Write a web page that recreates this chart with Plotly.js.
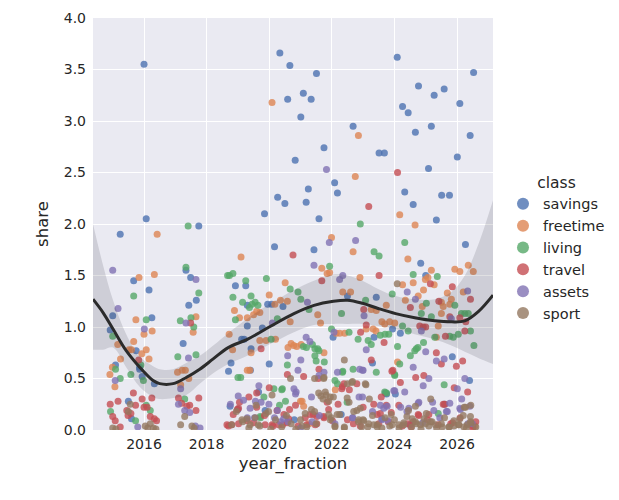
<!DOCTYPE html>
<html><head><meta charset="utf-8">
<script src="https://cdn.plot.ly/plotly-3.0.1.min.js"></script>
<style>body{margin:0;background:#fff}#chart{width:619px;height:500px}</style>
</head><body><div id="chart"></div>
<script>
const classes = ["savings","freetime","living","travel","assets","sport"];
const colors = ["#4C72B0","#DD8452","#55A868","#C44E52","#8172B3","#937860"];

// [year_fraction, share]
const savings = [[2016.0,3.55],[2016.07,2.05],[2017.75,1.98],[2020.34,3.66],[2020.66,3.54],[2021.51,3.46],[2021.09,3.27],[2020.59,3.21],[2021.34,3.21],[2021.01,3.04],[2022.68,2.95],[2021.75,2.74],[2020.83,2.62],[2022.09,2.40],[2021.25,2.34],[2022.18,2.30],[2020.27,2.26],[2020.50,2.20],[2021.18,2.21],[2019.85,2.10],[2021.59,2.05],
[2024.09,3.62],[2026.53,3.47],[2024.77,3.34],[2025.59,3.31],[2025.27,3.25],[2026.09,3.17],[2024.26,3.14],[2024.44,3.08],[2025.18,2.95],[2024.67,2.89],[2026.42,2.86],[2023.51,2.69],[2023.68,2.69],[2026.01,2.65],[2025.09,2.54],[2024.33,2.31],[2025.51,2.28],[2025.76,2.28],[2024.6,2.19],[2025.34,2.04],[2026.27,1.80],
[2015.24,1.90],[2015.67,1.45],[2017.34,1.55],[2017.49,1.48],[2016.16,1.36],[2017.67,1.26],[2017.43,1.21],[2015.0,1.11],[2016.25,1.09],[2014.92,0.97],[2017.25,0.84],[2015.75,0.77],[2015.09,0.63],[2015.86,0.61],[2015.86,0.59],[2015.94,0.52],[2016.33,0.45],[2015.5,0.28],[2015.6,0.11],
[2018.92,1.40],[2019.25,1.40],[2020.17,1.78],[2021.43,1.75],[2022.5,1.30],[2019.3,1.21],[2019.95,1.22],[2020.08,1.22],[2020.44,1.20],[2019.3,1.01],[2019.78,0.99],[2022.04,0.90],[2019.12,0.88],[2019.2,0.88],[2019.42,0.79],[2018.78,0.65],[2020.0,0.64],[2019.4,0.58],[2018.7,0.57],
[2024.84,1.62],[2025.0,1.50],[2023.42,1.29],[2023.94,0.98],[2024.19,0.94],[2023.35,0.90],[2025.85,0.71],[2023.3,0.65],[2023.75,0.35],[2024.03,0.35],[2019.0,0.2],[2020.8,0.1],[2022.3,0.15],[2024.5,0.05],[2025.6,0.25],[2026.4,0.48],
[2019.66,0.37],[2018.75,0.23],[2019.87,0.19],[2023.71,0.36],[2023.6,0.11]];

const freetime = [[2020.09,3.18],[2022.85,2.86],[2022.75,2.46],[2024.17,2.09],[2024.66,1.99],[2016.42,1.90],[2015.84,1.48],[2016.33,1.51],[2015.74,1.07],[2017.66,1.10],[2017.57,0.95],[2016.26,0.96],[2016.0,0.93],[2015.16,0.83],[2015.67,0.86],[2015.52,0.78],[2015.6,0.78],[2016.07,0.78],[2015.93,0.74],[2015.25,0.69],[2016.16,0.69],[2014.99,0.61],[2014.91,0.54],[2015.07,0.42],[2017.07,0.56],[2017.22,0.58],[2017.32,0.58],[2017.43,0.50],[2017.17,0.44],
[2021.99,1.87],[2022.68,1.73],[2019.1,1.68],[2021.68,1.57],[2021.93,1.53],[2021.85,1.52],[2020.51,1.43],[2022.9,1.48],[2022.35,1.34],[2022.6,1.34],[2020.0,1.31],[2020.36,1.26],[2020.58,1.25],[2018.89,1.16],[2019.05,1.09],[2019.3,1.09],[2019.6,1.15],[2019.5,1.12],[2019.7,1.14],[2020.18,1.22],[2020.67,1.05],[2021.55,1.12],[2021.64,1.04],[2022.14,0.94],[2022.25,0.94],[2022.41,0.94],[2018.72,0.93],[2019.7,0.87],[2019.9,0.87],[2020.2,0.88],[2020.7,0.84],[2020.78,0.82],[2020.88,0.81],[2021.02,0.83],[2020.6,0.80],[2018.83,0.78],[2019.42,0.75],[2021.75,0.75],[2019.3,0.58],[2019.38,0.58],
[2024.43,1.66],[2025.93,1.56],[2026.09,1.54],[2026.36,1.60],[2026.52,1.54],[2025.18,1.55],[2025.07,1.48],[2024.99,1.46],[2024.6,1.43],[2025.27,1.41],[2024.26,1.41],[2026.2,1.34],[2024.93,1.36],[2024.76,1.30],[2025.69,1.33],[2024.35,1.26],[2025.5,1.24],[2025.82,1.27],[2024.89,1.20],[2025.56,1.20],[2025.77,1.22],[2023.74,1.21],[2025.5,1.13],[2023.26,1.17],[2023.42,1.16],[2023.6,1.05],[2023.85,1.05],[2024.01,1.04],[2023.69,1.03],[2023.32,0.98],[2023.1,0.98],[2023.41,0.96],[2025.4,1.01],[2025.34,0.90],[2024.1,0.66],[2026.57,0.04],[2021.0,0.28],[2021.1,0.23],[2021.27,0.06],
[2021.05,0.28],[2022.11,0.39]];

const living = [[2017.41,1.98],[2022.91,2.0],[2017.34,1.58],[2015.67,1.30],[2017.75,1.33],[2016.07,1.07],[2017.16,1.06],[2017.5,1.09],[2017.59,1.0],[2015.0,0.91],[2017.66,0.73],[2017.08,0.71],[2015.9,0.63],[2015.09,0.59],[2015.58,0.54],[2015.24,0.50],[2015.98,0.48],[2018.67,1.50],[2014.93,0.18],[2016.07,0.24],[2016.2,0.19],[2015.73,0.09],[2017.3,0.30],
[2021.93,1.59],[2019.91,1.47],[2018.73,1.50],[2018.84,1.52],[2019.25,1.45],[2020.67,1.37],[2020.92,1.34],[2018.84,1.29],[2019.42,1.30],[2021.01,1.27],[2019.15,1.24],[2019.55,1.24],[2019.64,1.21],[2019.45,1.22],[2019.37,1.19],[2021.27,1.17],[2018.92,1.07],[2020.26,1.08],[2021.99,0.98],[2022.31,1.13],[2020.06,0.88],[2021.38,0.83],[2021.46,0.79],[2021.09,0.81],[2021.19,0.80],[2021.55,0.79],[2021.46,0.72],[2021.59,0.77],[2021.76,0.66],[2021.5,0.67],[2020.58,0.63],[2019.09,0.51],[2019.0,0.51],[2022.34,0.56],[2022.68,0.59],[2022.1,0.48],[2022.18,0.45],[2022.55,0.95],[2022.84,0.88],[2020.15,0.40],[2020.42,0.40],[2020.52,0.28],[2020.33,0.24],[2019.83,0.32],[2019.72,0.12],
[2024.33,1.82],[2023.35,1.73],[2023.51,1.69],[2024.6,1.51],[2025.37,1.49],[2023.93,1.32],[2023.08,1.26],[2025.02,1.23],[2025.93,1.21],[2026.14,1.13],[2026.25,1.13],[2026.36,1.13],[2024.86,1.13],[2025.18,1.10],[2024.26,1.01],[2024.44,0.96],[2023.55,0.92],[2023.7,0.93],[2023.82,0.93],[2025.29,0.90],[2025.77,0.91],[2025.88,0.90],[2026.04,0.93],[2026.43,0.96],[2026.54,0.82],[2024.1,0.81],[2024.93,0.85],[2024.75,0.80],[2024.65,0.77],[2024.7,0.79],[2024.51,0.72],[2023.16,0.87],[2023.26,0.83],[2023.42,0.56],[2024.17,0.64],[2024.01,0.54],[2025.59,0.44],[2023.69,0.37],[2025.4,0.16],
[2020.4,0.39],[2019.71,0.13],[2022.35,0.57],[2024.01,0.53],[2022.49,0.27],[2023.75,0.36]];

const travel = [[2024.10,2.50],[2023.18,2.17],[2020.76,1.70],[2021.68,1.45],[2023.51,1.50],[2025.85,1.39],[2026.43,1.27],[2025.42,1.25],[2024.51,1.19],[2025.15,1.42],[2023.02,1.17],[2026.09,1.09],[2026.28,1.05],[2025.77,1.10],[2023.1,1.02],[2024.81,1.01],[2025.0,1.0],[2024.92,1.0],[2023.67,0.85],[2025.63,0.91],[2026.25,0.96],[2025.34,0.75],[2023.26,0.68],[2023.95,0.58],[2025.5,0.64],[2025.98,0.62],[2026.18,0.67],[2024.19,0.46],[2024.68,0.51],[2024.94,0.53],[2025.91,0.41],[2026.34,0.37],[2023.58,0.32],[2023.34,0.25],[2025.56,0.25],[2024.76,0.15],[2023.74,0.24],
[2022.92,0.95],[2019.74,0.79],[2021.59,0.59],[2020.58,0.54],[2021.1,0.52],[2021.57,0.50],[2022.39,0.45],[2019.35,0.32],[2020.0,0.41],[2020.84,0.24],[2018.85,0.15],[2018.98,0.20],[2019.3,0.09],[2019.5,0.07],[2020.12,0.04],[2020.47,0.15],[2020.92,0.04],[2021.41,0.15],[2021.75,0.12],[2022.02,0.09],[2022.34,0.42],[2022.69,0.06],
[2015.66,0.36],[2015.17,0.28],[2014.92,0.25],[2015.0,0.13],[2015.08,0.09],[2015.24,0.03],[2015.94,0.30],[2016.25,0.31],[2015.73,0.24],[2016.0,0.22],[2016.1,0.22],[2015.45,0.19],[2015.58,0.16],[2015.49,0.14],[2016.2,0.13],[2016.33,0.11],[2016.4,0.09],[2017.49,1.04],[2017.1,0.31],[2017.75,0.31],[2017.2,0.26],[2017.37,0.23],[2017.46,0.24],[2017.66,0.19],[2015.83,0.68],[2018.7,0.04],
[2019.05,0.27],[2019.6,0.22],[2020.65,0.20],[2021.15,0.12],[2021.9,0.20],[2022.2,0.25],[2022.5,0.10],[2023.0,0.22],[2023.5,0.06],[2023.9,0.17],[2024.25,0.04],[2024.6,0.08],[2025.05,0.10],[2025.4,0.05],[2025.8,0.06],[2026.1,0.12],[2026.5,0.02],[2026.6,0.08],
[2019.6,0.36],[2019.02,0.21],[2020.25,0.19],[2021.31,0.15],[2019.85,0.14],[2020.62,0.11],[2018.65,0.05],[2018.8,0.05],[2019.02,0.06],[2019.87,0.05],[2020.09,0.05],[2020.3,0.05],[2020.43,0.05],[2020.57,0.07],[2021.2,0.05],[2021.47,0.05],[2023.92,0.57],[2022.8,0.45],[2022.32,0.40],[2022.56,0.39],[2021.85,0.27],[2023.45,0.15],[2023.55,0.16],[2024.14,0.24],[2021.52,0.13],[2021.74,0.13],[2021.52,0.06],[2023.8,0.08],[2022.91,0.04],[2025.61,0.25],[2024.78,0.14],[2025.1,0.15],[2024.43,0.06],[2024.53,0.03],[2025.86,0.07],[2026.51,0.04]];

const assets = [[2021.83,2.53],[2015.0,1.55],[2017.66,1.46],[2015.17,1.18],[2017.34,1.04],[2016.01,0.98],[2017.42,0.70],[2015.08,0.48],[2017.17,0.40],[2015.8,0.03],[2017.1,0.25],[2017.3,0.19],[2017.46,0.17],[2017.79,0.02],[2017.64,0.04],
[2021.92,1.82],[2022.76,1.84],[2021.43,1.60],[2022.35,1.50],[2022.25,1.46],[2021.22,1.24],[2020.1,1.04],[2022.07,0.95],[2021.18,0.90],[2021.3,0.86],[2020.59,0.72],[2021.01,0.68],[2020.92,0.58],[2021.75,0.56],[2021.59,0.53],[2022.18,0.56],[2022.89,0.59],[2019.67,0.43],[2019.01,0.33],[2020.79,0.40],[2020.84,0.35],[2021.35,0.32],[2019.99,0.25],[2019.56,0.28],[2020.26,0.19],[2018.76,0.25],[2020.36,0.08],[2022.87,0.32],[2022.66,0.12],
[2026.34,1.35],[2024.67,1.27],[2024.41,1.34],[2025.82,1.08],[2023.03,1.11],[2024.86,0.96],[2025.0,0.76],[2023.1,0.78],[2025.34,0.67],[2025.59,0.69],[2022.98,0.58],[2024.6,0.61],[2025.1,0.50],[2026.25,0.50],[2024.92,0.43],[2026.01,0.40],[2024.33,0.37],[2024.01,0.38],[2022.98,0.32],[2024.76,0.26],[2025.22,0.27],[2025.77,0.26],[2025.66,0.18],[2026.09,0.21],[2023.8,0.09],
[2019.3,0.12],[2020.6,0.08],[2021.0,0.02],[2021.6,0.14],[2022.1,0.06],[2023.3,0.18],[2023.6,0.10],[2024.2,0.22],[2024.9,0.07],[2025.45,0.12],[2026.35,0.06],[2026.15,0.30],
[2019.18,0.29],[2020.86,0.37],[2019.39,0.21],[2019.74,0.27],[2019.53,0.12],[2020.17,0.12],[2020.46,0.11],[2021.37,0.08],[2023.0,0.58],[2023.98,0.38],[2023.55,0.24],[2023.66,0.21],[2023.77,0.23],[2024.4,0.18],[2022.67,0.12],[2024.78,0.27],[2024.46,0.21],[2025.26,0.19],[2025.69,0.18],[2026.11,0.20],[2026.41,0.23],[2026.49,0.06]];

const sport = [[2024.09,1.42],[2022.4,0.68],[2020.68,0.50],[2021.45,0.50],[2021.75,0.51],[2022.66,0.47],[2022.5,0.45],[2023.09,0.44],[2025.16,0.30],[2026.23,0.22],[2026.44,0.24],
[2015.0,0.02],[2015.56,0.25],[2015.5,0.18],[2016.04,0.04],[2016.12,0.02],[2016.3,0.02],[2016.38,0.01],[2017.3,0.13],[2017.17,0.05],[2017.53,0.04],[2017.6,0.02],[2015.1,0.01],[2016.2,0.06],
[2018.8,0.05],[2018.95,0.18],[2019.15,0.08],[2019.35,0.02],[2019.55,0.12],[2019.7,0.04],[2019.9,0.16],[2020.05,0.01],[2020.2,0.10],[2020.4,0.03],[2020.55,0.14],[2020.7,0.06],[2020.85,0.01],[2021.0,0.10],[2021.2,0.03],[2021.35,0.20],[2021.5,0.06],[2021.65,0.33],[2021.72,0.30],[2021.82,0.34],[2021.9,0.28],[2021.98,0.12],[2022.1,0.04],[2022.25,0.15],[2022.4,0.02],[2022.55,0.27],[2022.7,0.18],[2022.85,0.08],
[2023.0,0.10],[2023.15,0.03],[2023.3,0.14],[2023.45,0.05],[2023.6,0.02],[2023.7,0.12],[2023.85,0.04],[2024.0,0.10],[2024.15,0.02],[2024.3,0.07],[2024.4,0.13],[2024.55,0.03],[2024.7,0.06],[2024.85,0.01],[2024.95,0.11],[2025.1,0.04],[2025.2,0.08],[2025.35,0.02],[2025.5,0.06],[2025.6,0.12],[2025.75,0.03],[2025.9,0.09],[2026.05,0.05],[2026.2,0.14],[2026.3,0.02],[2026.45,0.07],[2026.6,0.03],[2023.2,0.30],[2024.45,0.19],[2025.02,0.16],
[2020.09,0.34],[2019.58,0.24],[2019.98,0.18],[2021.15,0.16],[2021.45,0.18],[2019.13,0.10],[2019.29,0.11],[2019.39,0.05],[2019.65,0.05],[2021.05,0.04],[2021.74,0.50],[2022.64,0.46],[2023.07,0.45],[2021.58,0.36],[2021.79,0.37],[2021.95,0.32],[2022.05,0.32],[2022.49,0.31],[2022.8,0.19],[2022.91,0.21],[2023.9,0.15],[2021.9,0.15],[2021.95,0.10],[2022.17,0.15],[2022.86,0.10],[2023.02,0.09],[2023.18,0.06],[2023.34,0.05],[2023.93,0.05],[2024.14,0.05],[2024.3,0.05],[2022.95,0.03],[2023.45,0.03],[2022.1,0.03],[2022.4,0.03],[2024.67,0.23],[2026.09,0.11],[2026.43,0.13],
[2024.57,0.11],[2024.67,0.08],[2024.83,0.05],[2024.99,0.06],[2025.15,0.08],[2025.31,0.05],[2025.53,0.03],[2025.74,0.03],[2025.9,0.04],[2026.06,0.05],[2026.22,0.03],[2026.33,0.05],[2026.43,0.08],[2026.27,0.22]];

// regression fit line and confidence band
const fitX  = [2014.37,2014.69,2015.01,2015.43,2015.86,2016.29,2016.5,2016.93,2017.35,2017.78,2018.21,2018.69,2019.3,2020.0,2020.79,2021.43,2022.05,2022.5,2022.98,2023.48,2024.04,2024.65,2025.29,2025.82,2026.25,2026.68,2027.15];
const fitY  = [1.27,1.14,0.98,0.77,0.61,0.48,0.45,0.45,0.51,0.59,0.69,0.80,0.88,1.00,1.13,1.21,1.25,1.26,1.23,1.18,1.13,1.09,1.06,1.05,1.06,1.15,1.31];
const ciLo  = [0.78,0.78,0.80,0.61,0.42,0.32,0.30,0.31,0.34,0.45,0.55,0.64,0.72,0.83,0.95,1.02,1.03,1.03,1.03,1.01,0.98,0.93,0.88,0.82,0.76,0.70,0.64];
const ciHi  = [2.00,1.60,1.26,0.93,0.71,0.62,0.59,0.59,0.65,0.72,0.82,0.94,1.08,1.22,1.36,1.45,1.51,1.50,1.45,1.37,1.30,1.27,1.27,1.34,1.50,1.80,2.23];

const lists = [savings,freetime,living,travel,assets,sport];
const traces = classes.map((c,i)=>({
  type:'scatter', mode:'markers', name:c,
  x: lists[i].map(p=>p[0]), y: lists[i].map(p=>p[1]),
  marker:{color:colors[i], size:7, opacity:0.8, line:{width:0}},
  cliponaxis:true
}));
traces.push({type:'scatter',mode:'lines',x:fitX,y:ciLo,line:{width:0,shape:'spline'},showlegend:false,hoverinfo:'skip'});
traces.push({type:'scatter',mode:'lines',x:fitX,y:ciHi,line:{width:0,shape:'spline'},fill:'tonexty',fillcolor:'rgba(50,50,60,0.15)',showlegend:false,hoverinfo:'skip'});
traces.push({type:'scatter',mode:'lines',x:fitX,y:fitY,line:{width:3,color:'#2b2b2b',shape:'spline'},showlegend:false,hoverinfo:'skip'});

const font = {family:'DejaVu Sans', color:'#262626'};
const layout = {
  width:619, height:500,
  margin:{l:93, r:126, t:18, b:70, autoexpand:false},
  paper_bgcolor:'#ffffff', plot_bgcolor:'#EAEAF2',
  font:Object.assign({size:14},font),
  xaxis:{range:[2014.37,2027.15], tickvals:[2016,2018,2020,2022,2024,2026], gridcolor:'#ffffff', gridwidth:1, zeroline:false, showline:false, ticks:'', ticklabelstandoff:4,
    tickfont:{size:14, color:'#262626'}, title:{text:'year_fraction', font:{size:16.5,color:'#262626'}, standoff:6}},
  yaxis:{range:[0,4], dtick:0.5, tickformat:'.1f', gridcolor:'#ffffff', gridwidth:1, zeroline:false, showline:false, ticks:'', ticklabelstandoff:6,
    tickfont:{size:14, color:'#262626'}, title:{text:'share', font:{size:16.5,color:'#262626'}, standoff:10}},
  showlegend:true,
  legend:{x:1.025, xanchor:'left', y:0.44, yanchor:'middle', traceorder:'normal', bgcolor:'rgba(0,0,0,0)', borderwidth:0,
    font:{size:14.5,color:'#262626'}, title:{text:'class', side:'top center', font:{size:15.5,color:'#262626'}}, itemsizing:'constant', itemwidth:30}
};
Plotly.newPlot('chart', traces, layout, {displayModeBar:false, staticPlot:true});
</script></body></html>
